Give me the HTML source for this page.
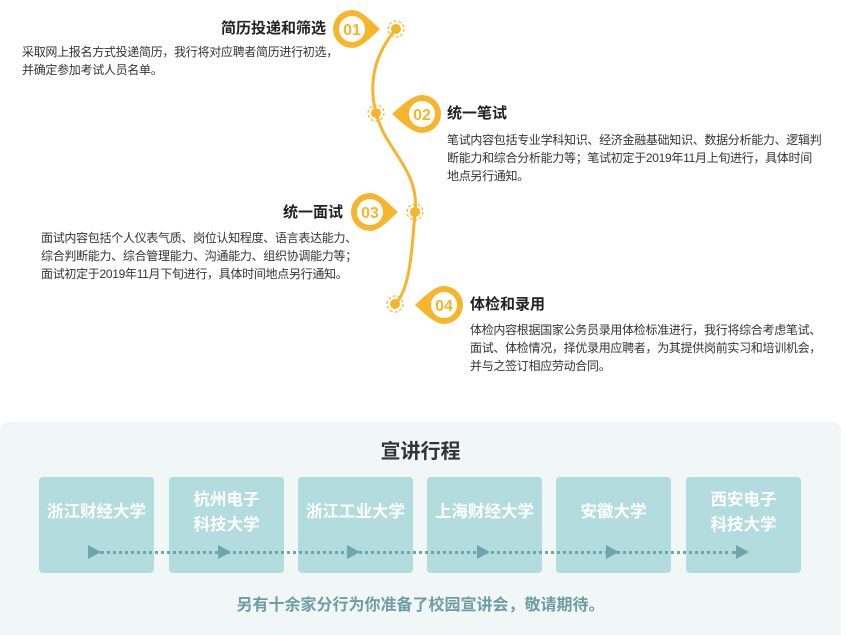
<!DOCTYPE html>
<html><head><meta charset="utf-8"><style>
body{margin:0;width:846px;height:635px;background:#fff;position:relative;overflow:hidden;font-family:"Liberation Sans","Noto Sans CJK SC",sans-serif;color:#333}
.t{position:absolute;font-size:15px;font-weight:bold;line-height:18px;white-space:nowrap;color:#222}
.d{position:absolute;font-size:12px;line-height:18px;white-space:nowrap;color:#333;letter-spacing:-0.3px}
.panel{position:absolute;left:0;top:422px;width:841px;height:213px;background:#f1f7f7;border-radius:8px 8px 0 0}
.box{position:absolute;top:477px;width:115px;height:96px;background:#b2dcdd;border-radius:4px;color:#fff;font-weight:bold;font-size:16.5px;line-height:25px;text-align:center}
.tri{position:absolute;top:545px;width:0;height:0;border-top:7px solid transparent;border-bottom:7px solid transparent;border-left:13px solid #6fa6ad}
</style></head><body>
<svg width="846" height="420" style="position:absolute;left:0;top:0">
<path d="M396,29 C370,60 370,90 376,113 C385,150 420,170 415,212 C412,250 410,290 395,304" fill="none" stroke="#f7b52c" stroke-width="3"/>
<g fill="#f7b52c">
<circle cx="396" cy="29" r="5"/><circle cx="376" cy="113" r="5"/><circle cx="415" cy="212" r="5"/><circle cx="395" cy="304" r="5"/>
</g>
<g fill="none" stroke="#f7b52c" stroke-width="1.2" stroke-dasharray="3,2">
<circle cx="396" cy="29" r="8"/><circle cx="376" cy="113" r="8"/><circle cx="415" cy="212" r="8"/><circle cx="395" cy="304" r="8"/>
</g>
<g fill="#f7b52c">
<path d="M352,10 A19,19 0 1,0 352,48 C362,48 372,36 380,29 C372,22 362,10 352,10Z"/>
<path d="M422,95 A19,19 0 1,1 422,133 C412,133 400,121 392,114 C400,107 412,95 422,95Z"/>
<path d="M370,193 A19,19 0 1,0 370,231 C380,231 390,219 398,212 C390,205 380,193 370,193Z"/>
<path d="M444,286 A19,19 0 1,1 444,324 C434,324 423,312 415,305 C423,298 434,286 444,286Z"/>
</g>
<g fill="#fff"><circle cx="352" cy="29" r="13"/><circle cx="422" cy="114" r="13"/><circle cx="370" cy="212" r="13"/><circle cx="444" cy="305" r="13"/></g>
<g fill="#f7b52c" font-family="Liberation Sans" font-weight="bold" font-size="16" text-anchor="middle">
<text x="352" y="35">01</text><text x="422" y="120">02</text><text x="370" y="218">03</text><text x="444" y="311">04</text>
</g>
</svg>
<div class="t" style="left:221px;top:20px">简历投递和筛选</div>
<div class="d" style="left:22px;top:43px">采取网上报名方式投递简历，我行将对应聘者简历进行初选，<br>并确定参加考试人员名单。</div>
<div class="t" style="left:447px;top:105px">统一笔试</div>
<div class="d" style="left:447px;top:131px">笔试内容包括专业学科知识、经济金融基础知识、数据分析能力、逻辑判<br>断能力和综合分析能力等；笔试初定于2019年11月上旬进行，具体时间<br>地点另行通知。</div>
<div class="t" style="left:283px;top:204px">统一面试</div>
<div class="d" style="left:41px;top:229px">面试内容包括个人仪表气质、岗位认知程度、语言表达能力、<br>综合判断能力、综合管理能力、沟通能力、组织协调能力等；<br>面试初定于2019年11月下旬进行，具体时间地点另行通知。</div>
<div class="t" style="left:470px;top:296px">体检和录用</div>
<div class="d" style="left:470px;top:321px">体检内容根据国家公务员录用体检标准进行，我行将综合考虑笔试、<br>面试、体检情况，择优录用应聘者，为其提供岗前实习和培训机会，<br>并与之签订相应劳动合同。</div>
<div class="panel"></div>
<div style="position:absolute;left:0;width:841px;top:439px;text-align:center;font-size:20px;font-weight:bold;color:#333;line-height:26px">宣讲行程</div>
<div class="box" style="left:39px;padding-top:23px;height:73px">浙江财经大学</div>
<div class="box" style="left:169px;padding-top:11px;height:85px">杭州电子<br>科技大学</div>
<div class="box" style="left:298px;padding-top:23px;height:73px">浙江工业大学</div>
<div class="box" style="left:427px;padding-top:23px;height:73px">上海财经大学</div>
<div class="box" style="left:556px;padding-top:23px;height:73px">安徽大学</div>
<div class="box" style="left:686px;padding-top:11px;height:85px">西安电子<br>科技大学</div>
<div style="position:absolute;left:100px;width:636px;top:551px;border-top:3px dotted #6fa6ad"></div>
<div class="tri" style="left:88px"></div><div class="tri" style="left:218px"></div><div class="tri" style="left:347px"></div>
<div class="tri" style="left:477px"></div><div class="tri" style="left:606px"></div><div class="tri" style="left:736px"></div>
<div style="position:absolute;left:0;width:841px;top:596px;text-align:center;font-size:16px;font-weight:bold;color:#6e9ea3;line-height:20px">另有十余家分行为你准备了校园宣讲会，敬请期待。</div>
</body></html>
